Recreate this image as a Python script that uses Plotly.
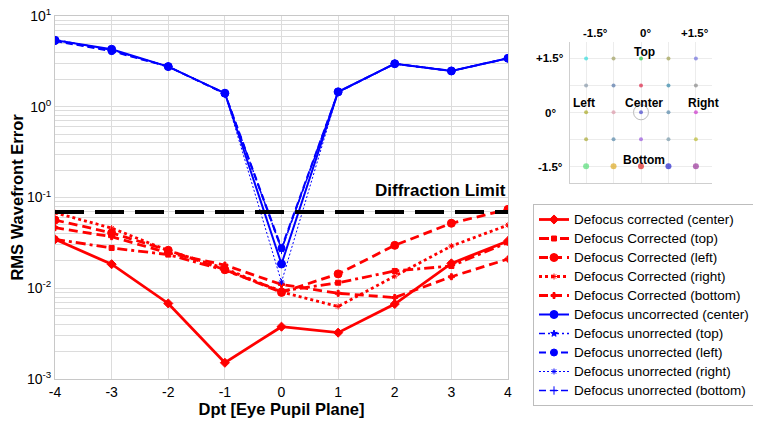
import plotly.graph_objects as go

# ---------------- data ----------------
dpt = [-4, -3, -2, -1, 0, 1, 2, 3, 4]

red_center = [0.0346, 0.0184, 0.0068, 0.00151, 0.00377, 0.00324, 0.0067, 0.0188, 0.0332]
red_top    = [0.0346, 0.0278, 0.0235, 0.0158, 0.0093, 0.0115, 0.0155, 0.0176, 0.0320]
red_left   = [0.0565, 0.0407, 0.0262, 0.0160, 0.0090, 0.0144, 0.0297, 0.0520, 0.0740]
red_right  = [0.0680, 0.0460, 0.0260, 0.0165, 0.0091, 0.0063, 0.0136, 0.0292, 0.0497]
red_bottom = [0.0465, 0.0370, 0.0245, 0.0180, 0.0110, 0.0088, 0.0079, 0.0134, 0.0210]

blue_center = [5.40, 4.30, 2.77, 1.41, 0.0185, 1.46, 2.98, 2.48, 3.42]
blue_top    = [5.50, 4.20, 2.77, 1.41, 0.0270, 1.46, 2.98, 2.48, 3.42]
blue_left   = [5.30, 4.10, 2.77, 1.40, 0.0278, 1.45, 2.98, 2.48, 3.42]
blue_right  = [5.45, 4.25, 2.77, 1.41, 0.0117, 1.46, 2.98, 2.48, 3.42]
blue_bottom = [5.35, 4.15, 2.77, 1.40, 0.0265, 1.45, 2.98, 2.48, 3.42]

diffraction_limit = 0.069

y_tickvals = [1e-3, 1e-2, 1e-1, 1e0, 1e1]
y_ticktext = ["10<sup>-3</sup>", "10<sup>-2</sup>", "10<sup>-1</sup>", "10<sup>0</sup>", "10<sup>1</sup>"]
y_minor = [m * 10 ** e for e in range(-3, 1) for m in range(2, 10)]

# inset spot diagram (field angles in degrees)
field_x = [-1.5, -0.75, 0, 0.75, 1.5]
field_y = [1.5, 0.75, 0, -0.75, -1.5]
spot_colors = [
    ["#33dddd", "#a0a060", "#22cc44", "#a0a050", "#7070dd"],
    ["#8899aa", "#5577aa", "#dd2244", "#3388aa", "#888888"],
    ["#aaaa22", "#dd99aa", "#4444cc", "#5588aa", "#cc33cc"],
    ["#aaaa33", "#5588aa", "#9955dd", "#7799aa", "#bbbb33"],
    ["#55dd77", "#ddaa22", "#dd2222", "#2222cc", "#993399"],
]
col_labels = ["-1.5°", "0°", "+1.5°"]
row_labels = ["+1.5°", "0°", "-1.5°"]

FONT = "Liberation Sans, Arial, sans-serif"
RED = "#ff0000"
BLUE = "#0000ff"

fig = go.Figure()

def add(y, name, color, dash, width, symbol, msize):
    fig.add_trace(go.Scatter(
        x=dpt, y=y, name='<span style="font-size:13.5px">' + name + '</span>',
        mode="lines+markers",
        line=dict(color=color, dash=dash, width=width),
        marker=dict(symbol=symbol, size=msize, color=color,
                    line=dict(color=color, width=1)),
    ))

add(red_center, "Defocus corrected (center)", RED, "solid", 2.8, "diamond", 7)
add(red_top, "Defocus Corrected (top)", RED, "10px,4px,3px,4px", 2.8, "square", 5)
add(red_left, "Defocus Corrected (left)", RED, "9px,5px", 2.8, "circle", 8)
add(red_right, "Defocus Corrected (right)", RED, "3px,3px", 2.8, "asterisk-open", 5)
add(red_bottom, "Defocus Corrected (bottom)", RED, "9px,5px", 2.8, "cross", 5)
add(blue_center, "Defocus uncorrected (center)", BLUE, "solid", 2, "circle", 8)
add(blue_top, "Defocus unorrected (top)", BLUE, "6px,3px,2px,3px", 1.5, "star", 5)
add(blue_left, "Defocus unorrected (left)", BLUE, "7px,4px", 2, "circle", 7)
add(blue_right, "Defocus unorrected (right)", BLUE, "2px,2px", 1, "asterisk-open", 5)
add(blue_bottom, "Defocus unorrected (bottom)", BLUE, "7px,4px", 1.5, "cross-thin-open", 6)

fig.add_trace(go.Scatter(
    x=[dpt[0], dpt[-1]], y=[diffraction_limit, diffraction_limit],
    mode="lines", showlegend=False, hoverinfo="skip",
    line=dict(color="black", width=4, dash="29px,11px"),
))

# inset spots
sx, sy, sc, ss = [], [], [], []
for i, fy in enumerate(field_y):
    for j, fx in enumerate(field_x):
        sx.append(fx); sy.append(fy); sc.append(spot_colors[i][j])
        ss.append(6 if i == 4 else 4)
fig.add_trace(go.Scatter(
    x=sx, y=sy, xaxis="x2", yaxis="y2", mode="markers", showlegend=False,
    marker=dict(color=sc, size=ss, line=dict(width=0)), hoverinfo="skip",
))
fig.add_trace(go.Scatter(
    x=[field_x[2]], y=[field_y[2]], xaxis="x2", yaxis="y2", mode="markers",
    showlegend=False, hoverinfo="skip",
    marker=dict(symbol="circle-open", size=15, color="#bbbbbb", line=dict(width=1)),
))

# page body has an 8px margin: lay out in reference pixels shifted by OFF
OFF = 8
W, H = 761 - OFF, 423 - OFF
ml, mr, mt, mb = 55 - OFF, 5, 16 - OFF, 44
pw = W - ml - mr
ph = H - mt - mb

def px_x(x):
    return (x - OFF - ml) / pw

def px_y(y):
    return (H - mb - (y - OFF)) / ph

GRID = "#dcdcdc"

fig.update_layout(
    width=W, height=H,
    margin=dict(l=ml, r=mr, t=mt, b=mb, autoexpand=False),
    paper_bgcolor="white", plot_bgcolor="white",
    font=dict(family=FONT, size=14, color="black"),
    xaxis=dict(
        domain=[0, px_x(508)], range=[-4, 4],
        tickvals=dpt, ticktext=[str(v) for v in dpt],
        showgrid=True, gridcolor=GRID, gridwidth=1,
        zeroline=False, showline=True, linecolor="#c8c8c8", mirror=True,
        ticks="", tickfont=dict(size=14), automargin=False,
        ticklabeloverflow="allow",
        title=dict(text="<b>Dpt [Eye Pupil Plane]</b>", font=dict(size=16.5), standoff=2),
    ),
    yaxis=dict(
        type="log", range=[-3, 1],
        tickvals=y_tickvals, ticktext=y_ticktext,
        showgrid=True, gridcolor=GRID, gridwidth=1,
        minor=dict(tickvals=y_minor, showgrid=True, gridcolor=GRID, ticks=""),
        zeroline=False, showline=True, linecolor="#c8c8c8", mirror=True,
        ticks="", tickfont=dict(size=14), automargin=False,
        ticklabeloverflow="allow",
        title=dict(text="<b>RMS Wavefront Error</b>", font=dict(size=16.5), standoff=4),
    ),
    xaxis2=dict(
        domain=[px_x(570), px_x(712)], range=[-1.94, 1.94], anchor="y2",
        tickvals=field_x, showticklabels=False, ticks="",
        showgrid=True, gridcolor="#ececec", zeroline=False,
        showline=True, linecolor="#cfcfcf",
    ),
    yaxis2=dict(
        domain=[px_y(183), px_y(42)], range=[-1.97, 1.96], anchor="x2",
        tickvals=field_y, showticklabels=False, ticks="",
        showgrid=True, gridcolor="#ececec", zeroline=False,
        showline=True, linecolor="#cfcfcf",
    ),
    legend=dict(
        x=px_x(533), y=px_y(204), xanchor="left", yanchor="top",
        bgcolor="white", bordercolor="#bdbdbd", borderwidth=1,
        font=dict(size=12, family=FONT), tracegroupgap=0,
    ),
    showlegend=True,
)

annotations = [
    dict(text="<b>Diffraction Limit</b>", x=4, y=-0.92, xref="x", yref="y",
         xanchor="right", yanchor="middle", showarrow=False, font=dict(size=17)),
]
for lab, xp in zip(col_labels, [595, 645, 695]):
    annotations.append(dict(text=f"<b>{lab}</b>", x=px_x(xp), y=px_y(33),
                            xref="paper", yref="paper", xanchor="center", yanchor="middle",
                            showarrow=False, font=dict(size=11.5)))
for lab, yp in zip(row_labels, [58, 113, 167]):
    annotations.append(dict(text=f"<b>{lab}</b>", x=px_x(550), y=px_y(yp),
                            xref="paper", yref="paper", xanchor="center", yanchor="middle",
                            showarrow=False, font=dict(size=11.5)))
for lab, fx, fy in [("Top", 0.1, 1.68), ("Left", -1.56, 0.26), ("Center", 0.07, 0.26),
                    ("Right", 1.71, 0.26), ("Bottom", 0.07, -1.33)]:
    annotations.append(dict(text=f"<b>{lab}</b>", x=fx, y=fy, xref="x2", yref="y2",
                            xanchor="center", yanchor="middle",
                            showarrow=False, font=dict(size=12)))
fig.update_layout(annotations=annotations)

fig.write_html("out.html")
